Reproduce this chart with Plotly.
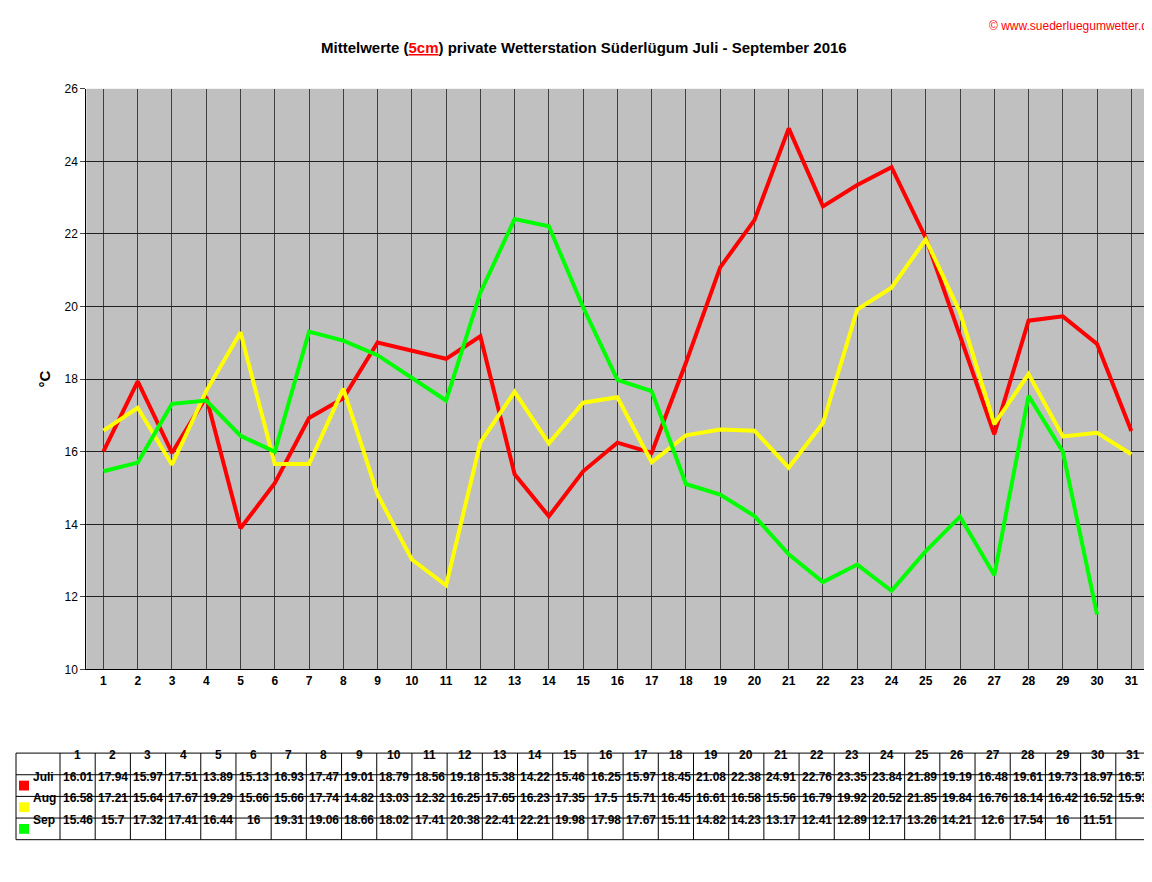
import plotly.graph_objects as go

days = list(range(1, 32))
juli = [16.01,17.94,15.97,17.51,13.89,15.13,16.93,17.47,19.01,18.79,18.56,19.18,15.38,14.22,15.46,16.25,15.97,18.45,21.08,22.38,24.91,22.76,23.35,23.84,21.89,19.19,16.48,19.61,19.73,18.97,16.57]
aug = [16.58,17.21,15.64,17.67,19.29,15.66,15.66,17.74,14.82,13.03,12.32,16.25,17.65,16.23,17.35,17.5,15.71,16.45,16.61,16.58,15.56,16.79,19.92,20.52,21.85,19.84,16.76,18.14,16.42,16.52,15.93]
sep = [15.46,15.7,17.32,17.41,16.44,16,19.31,19.06,18.66,18.02,17.41,20.38,22.41,22.21,19.98,17.98,17.67,15.11,14.82,14.23,13.17,12.41,12.89,12.17,13.26,14.21,12.6,17.54,16,11.51]
names = ["Juli", "Aug", "Sep"]
colors = ["#FF0000", "#FFFF00", "#00FF00"]
series = [juli, aug, sep]

W, H = 1152, 882
fig = go.Figure()
for n, c, s in zip(names, colors, series):
    fig.add_trace(go.Scatter(x=days[:len(s)], y=s, mode="lines", name=n,
                             line=dict(color=c, width=4), showlegend=False))

# table drawn with shapes + annotations (paper coordinates from pixels)
def px(x): return x / W
def py(y): return 1 - y / H

x0, xc, x1 = 8, 52, 1143
cw = (x1 - xc) / 31
ytop, rh = 750, 22
shapes, annos = [], []
line = dict(color="black", width=1)
for r in range(5):
    y = ytop + r * rh
    shapes.append(dict(type="line", xref="paper", yref="paper", x0=px(x0), x1=px(x1), y0=py(y), y1=py(y), line=line))
for xx in [x0, xc] + [xc + cw * (i + 1) for i in range(31)]:
    shapes.append(dict(type="line", xref="paper", yref="paper", x0=px(xx), x1=px(xx), y0=py(ytop), y1=py(ytop + 4 * rh), line=line))
for i, d in enumerate(days):
    annos.append(dict(text=f"<b>{d}</b>", x=px(xc + cw * (i + 0.5)), y=py(ytop + rh / 2)))
for r, (n, c, s) in enumerate(zip(names, colors, series)):
    yc = ytop + rh * (r + 1.5)
    shapes.append(dict(type="rect", xref="paper", yref="paper", x0=px(11), x1=px(21), y0=py(yc - 5), y1=py(yc + 5),
                       fillcolor=c, line=dict(width=0)))
    annos.append(dict(text=f"<b>{n}</b>", x=px(23), y=py(yc), xanchor="left"))
    for i, v in enumerate(s):
        annos.append(dict(text=f"<b>{v:g}</b>", x=px(xc + cw * (i + 0.5)), y=py(yc)))
for a in annos:
    a.update(xref="paper", yref="paper", showarrow=False, font=dict(size=12, family="Arial", color="black"))
    a.setdefault("xanchor", "center")

annos += [
    dict(text="<b>Mittelwerte (<span style='color:red'><u>5cm</u></span>) private Wetterstation Süderlügum Juli - September 2016</b>",
         x=0.5, y=py(22), xref="paper", yref="paper", showarrow=False, font=dict(size=15, family="Arial")),
    dict(text="© www.suederluegumwetter.de", x=0.997, y=0.998, xref="paper", yref="paper",
         xanchor="right", yanchor="top", showarrow=False, font=dict(size=12, family="Arial", color="red")),
]

fig.update_layout(
    width=W, height=H, margin=dict(l=0, r=0, t=0, b=0),
    paper_bgcolor="white", plot_bgcolor="#C0C0C0",
    font=dict(family="Arial", color="black"),
    shapes=shapes, annotations=annos,
    xaxis=dict(domain=[0.068, 0.99], range=[0.5, 31.5], tickvals=days,
               ticktext=[f"<b>{d}</b>" for d in days], showgrid=True,
               gridcolor="#404040", showline=True, linecolor="black", ticks="", tickfont=dict(size=12)),
    yaxis=dict(domain=[0.246, 0.915], range=[10, 26], dtick=2, showgrid=True,
               gridcolor="#202020", showline=True, linecolor="black", ticks="outside",
               tickfont=dict(size=12), tickformat="d",
               title=dict(text="<b>°C</b>", font=dict(size=15), standoff=10)),
)
fig.write_html("out.html")
